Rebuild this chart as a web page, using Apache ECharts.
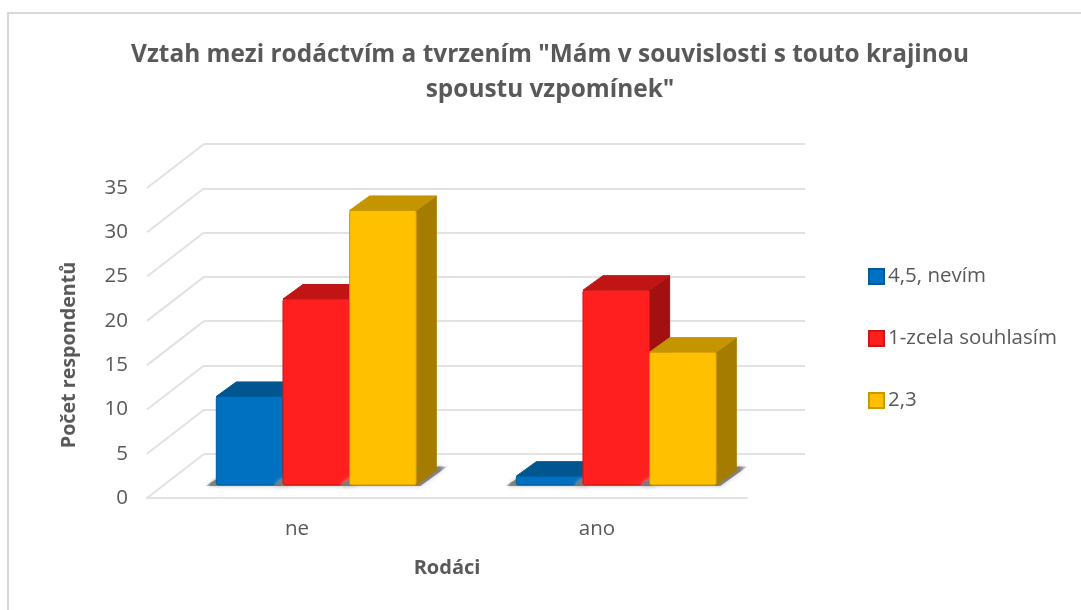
<!DOCTYPE html>
<html>
<head>
<meta charset="utf-8">
<style>html,body{margin:0;padding:0;background:#fff}#c{width:1081px;height:610px}</style>
<script src="https://cdn.jsdelivr.net/npm/echarts@6/dist/echarts.min.js"></script>
</head>
<body>
<div id="c"></div>
<script>
const categories = ['ne', 'ano'];
const seriesNames = ['4,5, nevím', '1-zcela souhlasím', '2,3'];
const valuesNevim = [10, 1];
const valuesZcela = [21, 22];
const valuesDvaTri = [31, 15];
const yTicks = [0, 5, 10, 15, 20, 25, 30, 35];
const titleText = 'Vztah mezi rodáctvím a tvrzením "Mám v souvislosti s touto krajinou\nspoustu vzpomínek"';

const FONT = '"Open Sans"';
const TXT = '#595959';
const GRID = '#e2e2e2';
const palette = [
  {front: '#0070c0', top: '#00578f', side: '#00497c', edge: '#005a9c'},
  {front: '#ff1f1f', top: '#c11515', side: '#a31010', edge: '#c81818'},
  {front: '#ffc000', top: '#c49500', side: '#a67c00', edge: '#c99a00'}
];
// 3D projection constants (pixels)
const WALL = {dx: 57, dy: -44};
const FLOOR = {dx: 16.5, dy: -13};
const DEPTH = {dx: 20, dy: -14.5};
const GROUP_SHIFT = 2.8;

const chart = echarts.init(document.getElementById('c'));

function shadowFill() {
  return new echarts.graphic.LinearGradient(0, 0, 1, 0, [
    {offset: 0, color: 'rgba(120,120,120,0.1)'},
    {offset: 0.05, color: 'rgba(120,120,120,0.9)'},
    {offset: 0.93, color: 'rgba(120,120,120,0.9)'},
    {offset: 1, color: 'rgba(120,120,120,0.15)'}
  ]);
}

function barRenderer(idx) {
  return function (params, api) {
    const cat = api.value(0), val = api.value(1);
    const catW = api.size([1, 0])[0];
    const w = catW * 0.2222;
    const c = api.coord([cat, val]), b = api.coord([cat, 0]);
    const x0 = c[0] + FLOOR.dx + GROUP_SHIFT + (idx - 1.5) * w;
    const x1 = x0 + w;
    const yT = c[1] + FLOOR.dy, yB = b[1] + FLOOR.dy;
    const p = palette[idx];
    const kids = [];
    kids.push({type: 'polygon', z2: 0, shape: {points: [[x0 - 11, yB + 1], [x1 + 4, yB + 1], [x1 + DEPTH.dx + 11, yB + DEPTH.dy - 4], [x0 + DEPTH.dx, yB + DEPTH.dy - 4]]},
      style: {fill: shadowFill(), shadowBlur: 4, shadowColor: '#bbb'}});
    kids.push({type: 'polygon', z2: 1, shape: {points: [[x1, yT], [x1 + DEPTH.dx, yT + DEPTH.dy], [x1 + DEPTH.dx, yB + DEPTH.dy], [x1, yB]]},
      style: {fill: p.side, stroke: p.side, lineWidth: 1, lineJoin: 'round'}});
    kids.push({type: 'polygon', z2: 2, shape: {points: [[x0, yT], [x0 + DEPTH.dx, yT + DEPTH.dy], [x1 + DEPTH.dx, yT + DEPTH.dy], [x1, yT]]},
      style: {fill: p.top, stroke: p.top, lineWidth: 1, lineJoin: 'round'}});
    kids.push({type: 'rect', z2: 3, shape: {x: x0, y: yT, width: w, height: yB - yT, r: 2}, style: {fill: p.front, stroke: p.edge, lineWidth: 1}});
    return {type: 'group', children: kids};
  };
}

function wallDiagonals(params, api) {
  const v = api.value(0);
  const c = api.coord([0, v]);
  const x = params.coordSys.x;
  return {type: 'line', shape: {x1: x, y1: c[1], x2: x + WALL.dx, y2: c[1] + WALL.dy}, style: {stroke: GRID, lineWidth: 2}};
}

const barSeries = seriesNames.map((name, i) => ({
  name, type: 'custom', xAxisIndex: 0, yAxisIndex: 0, z: 5 + i,
  renderItem: barRenderer(i), itemStyle: {color: palette[i].front, borderColor: palette[i].edge, borderWidth: 1},
  encode: {x: 0, y: 1},
  data: [valuesNevim, valuesZcela, valuesDvaTri][i].map((v, k) => [k, v])
}));

chart.setOption({
  animation: false,
  backgroundColor: '#fff',
  graphic: [{type: 'polyline', silent: true, shape: {points: [[8, 612], [8, 13], [1083, 13]]}, style: {fill: 'none', stroke: '#d9d9d9', lineWidth: 2}}],
  title: {text: titleText, left: 545, top: 33, textAlign: 'center',
    textStyle: {fontFamily: FONT, fontWeight: 'bold', fontSize: 24.4, color: TXT, lineHeight: 35}},
  legend: {orient: 'vertical', left: 863, top: 261, itemWidth: 15, itemHeight: 15, itemGap: 41, icon: 'rect',
    data: seriesNames, textStyle: {fontFamily: FONT, fontSize: 20.5, color: TXT, padding: [0, 0, 0, -1]}},
  grid: [
    {left: 147, top: 188, width: 600, height: 310},
    {left: 204, top: 144, width: 601, height: 310}
  ],
  xAxis: [
    {type: 'category', gridIndex: 0, data: categories, name: 'Rodáci', nameLocation: 'middle', nameGap: 60,
     nameTextStyle: {fontFamily: FONT, fontWeight: 'bold', fontSize: 20, color: TXT},
     axisTick: {show: false}, axisLine: {lineStyle: {color: GRID, width: 2}},
     axisLabel: {fontFamily: FONT, fontSize: 20.5, color: TXT, margin: 21}},
    {type: 'category', gridIndex: 1, data: categories, show: false}
  ],
  yAxis: [
    {type: 'value', gridIndex: 0, min: 0, max: 35, interval: 5, name: 'Počet respondentů', nameLocation: 'middle', nameGap: 68,
     nameTextStyle: {fontFamily: FONT, fontWeight: 'bold', fontSize: 19.7, color: TXT, padding: [0, 24, 0, 0]},
     axisLine: {show: false}, axisTick: {show: false}, splitLine: {show: false},
     axisLabel: {fontFamily: FONT, fontSize: 20.5, color: TXT, margin: 19}},
    {type: 'value', gridIndex: 1, min: 0, max: 35, interval: 5, axisLine: {show: false}, axisTick: {show: false},
     axisLabel: {show: false}, splitLine: {show: true, lineStyle: {color: GRID, width: 2}}}
  ],
  series: [
    {type: 'custom', xAxisIndex: 0, yAxisIndex: 0, z: 1, silent: true, renderItem: wallDiagonals,
     encode: {y: 0}, data: yTicks.map(v => [v])},
    ...barSeries
  ]
});
</script>
</body>
</html>
